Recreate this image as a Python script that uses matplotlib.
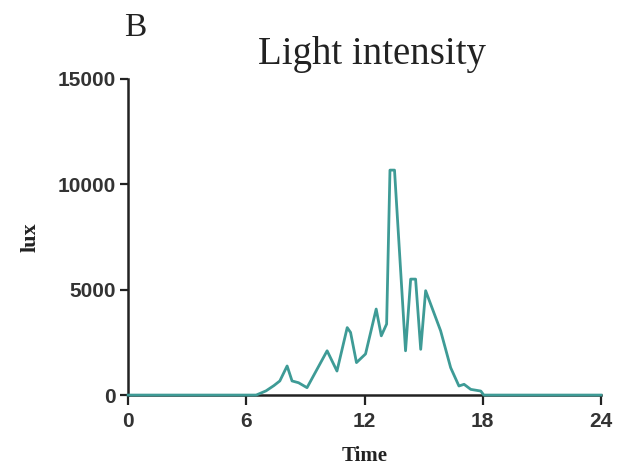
import matplotlib.pyplot as plt

# values
hours = [0, 6.5, 7.0, 7.4, 7.7, 8.07, 8.32, 8.65, 9.08, 10.1, 10.6, 11.12, 11.29,
         11.59, 12.05, 12.59, 12.85, 13.12, 13.29, 13.52, 14.08, 14.34, 14.59,
         14.85, 15.1, 15.86, 16.37, 16.79, 17.05, 17.39, 17.9, 18.05, 24]
lux = [0, 0, 200, 450, 670, 1380, 670, 585, 350, 2100, 1140, 3200, 2970,
       1540, 1950, 4080, 2810, 3370, 10670, 10670, 2100, 5500, 5500,
       2170, 4950, 3050, 1300, 430, 510, 270, 190, 0, 0]
x_ticks = [0, 6, 12, 18, 24]
y_ticks = [0, 5000, 10000, 15000]

fig = plt.figure(figsize=(6.28, 4.72), dpi=100)
ax = fig.add_axes([0.204, 0.163, 0.753, 0.67])

ax.plot(hours, lux, color="#3e9b96", linewidth=2.0, zorder=3, clip_on=False)

ax.set_xlim(0, 24)
ax.set_ylim(0, 15000)
ax.set_xticks(x_ticks)
ax.set_yticks(y_ticks)

for side in ("top", "right"):
    ax.spines[side].set_visible(False)
for side in ("left", "bottom"):
    ax.spines[side].set_linewidth(1.8)
    ax.spines[side].set_color("#222222")

ax.tick_params(direction="out", length=6, width=1.6, colors="#222222")
ax.tick_params(axis="x", length=7, pad=5)
ax.tick_params(axis="y", pad=3)
for lab in ax.get_xticklabels() + ax.get_yticklabels():
    lab.set_fontfamily("Liberation Sans")
    lab.set_fontweight("bold")
    lab.set_fontsize(15)
    lab.set_color("#333333")

ax.set_xlabel("Time", fontfamily="Liberation Serif", fontweight="bold",
              fontsize=15, color="#222222", labelpad=11)
ax.set_ylabel("lux", fontfamily="Liberation Serif", fontweight="bold",
              fontsize=16, color="#222222", labelpad=12)

fig.text(0.592, 0.885, "Light intensity", fontfamily="Liberation Serif",
         fontsize=28, color="#222222", ha="center", va="center")
fig.text(0.215, 0.942, "B", fontfamily="Liberation Serif",
         fontsize=24, color="#222222", ha="center", va="center")

fig.savefig("out.png", dpi=100, facecolor="white")
